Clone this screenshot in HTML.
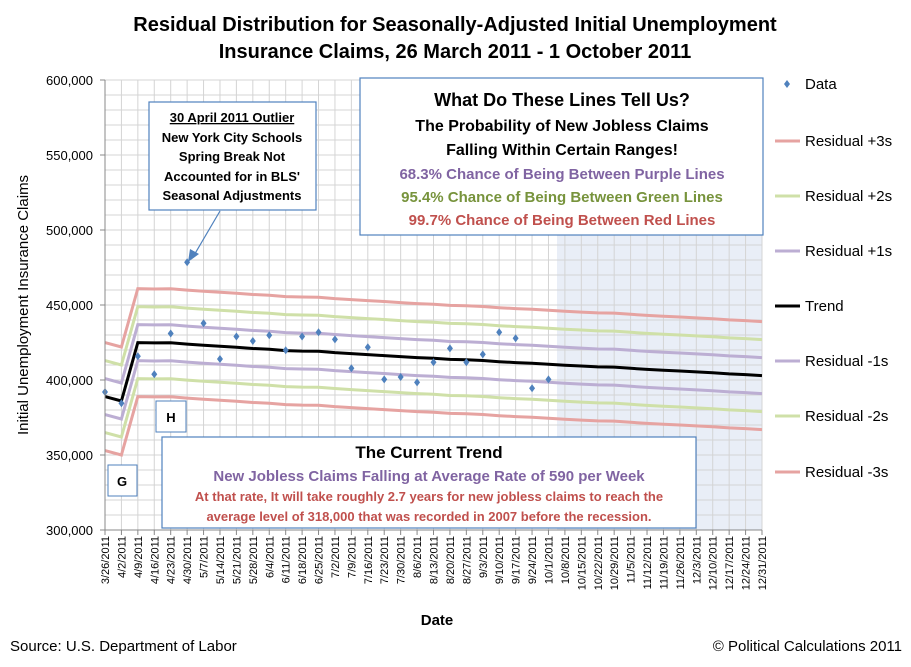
<!DOCTYPE html>
<html><head><meta charset="utf-8"><style>
body{margin:0;background:#fff;font-family:"Liberation Sans",sans-serif}
svg text{font-family:"Liberation Sans",sans-serif}
</style></head><body>
<svg width="911" height="662" xmlns="http://www.w3.org/2000/svg" id="chart">
<g id="grid"></g>
<rect x="557" y="80" width="205" height="450" fill="#e9eef7"/>
<g id="gridfront"></g>
<g id="series"></g>
<g id="axes"></g>
<text x="455" y="31" text-anchor="middle" font-size="20" font-weight="bold">Residual Distribution for Seasonally-Adjusted Initial Unemployment</text>
<text x="455" y="58" text-anchor="middle" font-size="20" font-weight="bold">Insurance Claims, 26 March 2011 - 1 October 2011</text>
<text transform="translate(28,305) rotate(-90)" text-anchor="middle" font-size="15">Initial Unemployment Insurance Claims</text>
<text x="437" y="625" text-anchor="middle" font-size="15" font-weight="bold">Date</text>
<text x="10" y="651" font-size="15">Source: U.S. Department of Labor</text>
<text x="902" y="651" text-anchor="end" font-size="15">© Political Calculations 2011</text>
<g>
<rect x="149" y="102" width="167" height="108" fill="#fff" stroke="#4f81bd" stroke-width="1.2"/>
<text text-anchor="middle" font-size="13" font-weight="bold"><tspan x="232" y="122" text-decoration="underline">30 April 2011 Outlier</tspan><tspan x="232" y="142">New York City Schools</tspan><tspan x="232" y="161">Spring Break Not</tspan><tspan x="232" y="181">Accounted for in BLS'</tspan><tspan x="232" y="200">Seasonal Adjustments</tspan></text>
<line x1="220" y1="211" x2="193" y2="257" stroke="#4f81bd" stroke-width="1.2"/>
<polygon points="188,262 190,249 199,254" fill="#4f81bd"/>
</g>
<g>
<rect x="360" y="78" width="403" height="157" fill="#fff" stroke="#4f81bd" stroke-width="1.2"/>
<text text-anchor="middle" font-weight="bold"><tspan x="562" y="106" font-size="18">What Do These Lines Tell Us?</tspan><tspan x="562" y="131" font-size="16">The Probability of New Jobless Claims</tspan><tspan x="562" y="155" font-size="16">Falling Within Certain Ranges!</tspan><tspan x="562" y="179" font-size="15" fill="#8064a2">68.3% Chance of Being Between Purple Lines</tspan><tspan x="562" y="202" font-size="15" fill="#77933c">95.4% Chance of Being Between Green Lines</tspan><tspan x="562" y="225" font-size="15" fill="#c0504d">99.7% Chance of Being Between Red Lines</tspan></text>
</g>
<g>
<rect x="162" y="437" width="534" height="91" fill="#fff" stroke="#4f81bd" stroke-width="1.2"/>
<text text-anchor="middle" font-weight="bold"><tspan x="429" y="458" font-size="17">The Current Trend</tspan><tspan x="429" y="481" font-size="15" fill="#8064a2">New Jobless Claims Falling at Average Rate of 590 per Week</tspan><tspan x="429" y="501" font-size="13" fill="#c0504d">At that rate, It will take roughly 2.7 years for new jobless claims to reach the</tspan><tspan x="429" y="521" font-size="13" fill="#c0504d">average level of 318,000 that was recorded in 2007 before the recession.</tspan></text>
</g>
<g><rect x="156" y="401" width="30" height="31" fill="#fff" stroke="#4f81bd"/><text x="171" y="422" text-anchor="middle" font-size="13" font-weight="bold">H</text></g>
<g><rect x="108" y="465" width="29" height="31" fill="#fff" stroke="#4f81bd"/><text x="122" y="486" text-anchor="middle" font-size="13" font-weight="bold">G</text></g>
<g id="legend"></g>
</svg>
<script>
const categories=["3/26/2011","4/2/2011","4/9/2011","4/16/2011","4/23/2011","4/30/2011","5/7/2011","5/14/2011","5/21/2011","5/28/2011","6/4/2011","6/11/2011","6/18/2011","6/25/2011","7/2/2011","7/9/2011","7/16/2011","7/23/2011","7/30/2011","8/6/2011","8/13/2011","8/20/2011","8/27/2011","9/3/2011","9/10/2011","9/17/2011","9/24/2011","10/1/2011","10/8/2011","10/15/2011","10/22/2011","10/29/2011","11/5/2011","11/12/2011","11/19/2011","11/26/2011","12/3/2011","12/10/2011","12/17/2011","12/24/2011","12/31/2011"];
const dataValues=[392000,384500,415800,403800,431000,478500,437800,414000,429000,426000,429800,419800,429000,431800,427100,407800,421800,400400,402000,398400,411800,421100,411800,417100,431800,427800,394500,400400];
const trendValues=[388900,386000,424900,424700,424800,423900,423200,422500,421800,421000,420500,419600,419300,419200,418300,417600,416900,416300,415600,414900,414500,413700,413500,413000,412200,411600,411200,410500,409800,409300,408700,408600,407800,407100,406500,406000,405400,404800,404100,403600,402900];
const sigma=[12000];
const yTicks=[300000,350000,400000,450000,500000,550000,600000];
const bandMultipliers=[3,2,1,-1,-2,-3];
const NS="http://www.w3.org/2000/svg";
const X0=105,X1=762,Y0=530,Y1=80,YMIN=300000,YMAX=600000;
function xs(i){return X0+i*(X1-X0)/(categories.length-1);}
function ys(v){return Y0-(v-YMIN)/(YMAX-YMIN)*(Y0-Y1);}
function mk(t,a,p){const e=document.createElementNS(NS,t);for(const k in a)e.setAttribute(k,a[k]);p.appendChild(e);return e;}
const grid=document.getElementById('gridfront'),series=document.getElementById('series'),axes=document.getElementById('axes'),legend=document.getElementById('legend');
for(let v=YMIN;v<=YMAX;v+=10000){const l=mk('line',{x1:X0,x2:X1,y1:ys(v),y2:ys(v),stroke:'#d4d4d4','stroke-width':1},grid);

}
categories.forEach((c,i)=>{const l=mk('line',{x1:xs(i),x2:xs(i),y1:Y1,y2:Y0,stroke:'#d4d4d4','stroke-width':1},grid);


const t=mk('line',{x1:xs(i),x2:xs(i),y1:Y0,y2:Y0+5,stroke:'#888'},axes);


const tx=mk('text',{transform:`translate(${xs(i)+4},${Y0+6}) rotate(-90)`,'text-anchor':'end','font-size':11},axes);
tx.textContent=c;

});
mk('line',{x1:X0,x2:X0,y1:Y1,y2:Y0,stroke:'#888'},axes);
mk('line',{x1:X0,x2:X1,y1:Y0,y2:Y0,stroke:'#888'},axes);
yTicks.forEach(v=>{mk('line',{x1:X0-5,x2:X0,y1:ys(v),y2:ys(v),stroke:'#888'},axes);
const t=mk('text',{x:X0-12,y:ys(v)+5,'text-anchor':'end','font-size':13},axes);
t.textContent=v.toLocaleString('en-US');

});
const bandColor={3:'#e6a3a1','2':'#cfe0a8','1':'#bcaed3','-1':'#bcaed3','-2':'#cfe0a8','-3':'#e6a3a1'};
function pathFor(vals){return vals.map((v,i)=>(i?'L':'M')+xs(i).toFixed(1)+','+ys(v).toFixed(1)).join(' ');}
bandMultipliers.forEach(m=>{const p=mk('path',{d:pathFor(trendValues.map(t=>t+m*sigma[0])),fill:'none',stroke:bandColor[m],'stroke-width':3},series);

});
const tp=mk('path',{d:pathFor(trendValues),fill:'none',stroke:'#000','stroke-width':3},series);


dataValues.forEach((v,i)=>{const x=xs(i),y=ys(v);const d=mk('path',{d:`M${x},${y-4}L${x+3},${y}L${x},${y+4}L${x-3},${y}Z`,fill:'#4f81bd'},series);

});
const leg=[['Data',84,null],['Residual +3s',141,3],['Residual +2s',196,2],['Residual +1s',251,1],['Trend',306,0],['Residual -1s',361,-1],['Residual -2s',416,-2],['Residual -3s',472,-3]];
leg.forEach(([n,y,m])=>{if(m===null){mk('path',{d:`M787,${y-4}L790,${y}L787,${y+4}L784,${y}Z`,fill:'#4f81bd'},legend);}
else mk('line',{x1:775,x2:800,y1:y,y2:y,stroke:m===0?'#000':bandColor[m],'stroke-width':3},legend);
const t=mk('text',{x:805,y:y+5,'font-size':15},legend);t.textContent=n;

});
</script>
</body></html>
